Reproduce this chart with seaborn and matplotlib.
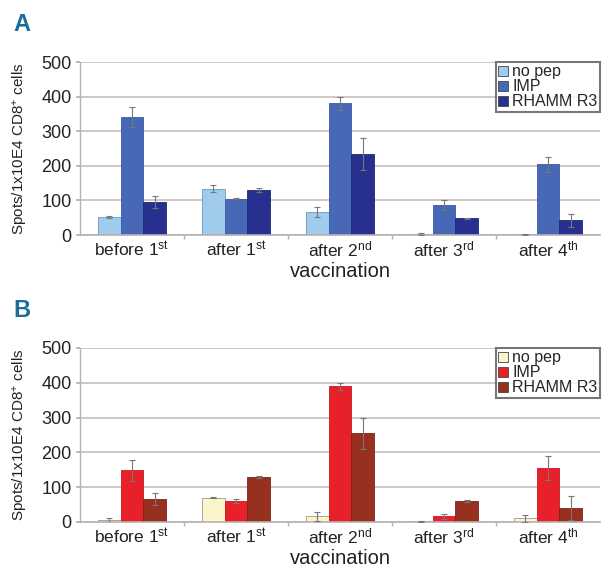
import matplotlib
matplotlib.use("Agg")
import matplotlib.pyplot as plt
import seaborn as sns
import pandas as pd
import numpy as np

categories = ["before 1$^{st}$", "after 1$^{st}$", "after 2$^{nd}$", "after 3$^{rd}$", "after 4$^{th}$"]
series = ["no pep", "IMP", "RHAMM R3"]

# Panel A
a_nopep = [52, 134, 66, 3, 2]
a_imp = [341, 105, 381, 86, 204]
a_rhamm = [96, 129, 234, 48, 42]
a_nopep_err = [3, 11, 15, 2, 2]
a_imp_err = [28, 2, 19, 14, 21]
a_rhamm_err = [18, 6, 46, 1, 20]

# Panel B
b_nopep = [5, 70, 16, 2, 11]
b_imp = [148, 60, 390, 16, 155]
b_rhamm = [67, 130, 255, 60, 41]
b_nopep_err = [7, 2, 12, 1, 10]
b_imp_err = [30, 6, 10, 8, 35]
b_rhamm_err = [17, 3, 45, 3, 35]

colors_a = ["#9fcbec", "#4668b6", "#28308f"]
colors_b = ["#fbf5cc", "#e8202a", "#983020"]

sns.set_theme(style="white")
plt.rcParams['font.family'] = ['Liberation Sans', 'DejaVu Sans']
plt.rcParams['mathtext.default'] = 'regular'
plt.rcParams['mathtext.fontset'] = 'custom'
plt.rcParams['mathtext.rm'] = 'Liberation Sans'

fig = plt.figure(figsize=(6.03, 5.75), dpi=100)

def build_df(vals):
    rows = []
    for s, v in zip(series, vals):
        for c, x in zip(categories, v):
            rows.append({"cat": c, "series": s, "val": x})
    return pd.DataFrame(rows)

def draw(ax, vals, errs, colors, letter, edgecols):
    df = build_df(vals)
    sns.barplot(data=df, x="cat", y="val", hue="series", palette=colors,
                width=0.66, errorbar=None, ax=ax, saturation=1,
                edgecolor=None, linewidth=0)
    for cont, err, ec in zip(ax.containers, errs, edgecols):
        xs = [p.get_x() + p.get_width() / 2 for p in cont.patches]
        hs = [p.get_height() for p in cont.patches]
        for p in cont.patches:
            p.set_edgecolor(ec)
            p.set_linewidth(0.6)
        ax.errorbar(xs, hs, yerr=err, fmt="none", ecolor="#777777",
                    elinewidth=0.8, capsize=2, capthick=0.8, zorder=5)
    ax.set_xlim(-0.5, 4.5)
    ax.set_ylim(0, 500)
    ax.set_yticks([0, 100, 200, 300, 400, 500])
    ax.yaxis.grid(True, color="#c8bcbc", linewidth=1.2)
    ax.set_axisbelow(True)
    for s in ["top", "right"]:
        ax.spines[s].set_visible(False)
    ax.spines["left"].set_color("#b8b0b0")
    ax.spines["bottom"].set_color("#b8b0b0")
    ax.spines["left"].set_linewidth(1.0)
    ax.spines["bottom"].set_linewidth(1.2)
    ax.tick_params(axis="x", which="major", length=0, labelsize=12.5, pad=3, labelcolor="#222222")
    ax.set_xticks(np.arange(0.5, 4.5, 1.0), minor=True)
    ax.tick_params(axis="x", which="minor", length=3, color="#b8b0b0", width=1, direction="out", bottom=True)
    ax.tick_params(axis="y", which="major", length=3, color="#b8b0b0", labelsize=13, pad=3, labelcolor="#222222", left=True)
    ax.set_ylabel("Spots/1x10E4 CD8$^{+}$ cells", fontsize=11, color="#222222", labelpad=8)
    ax.set_xlabel("vaccination", fontsize=14.5, color="#222222", labelpad=2)
    leg = ax.legend(loc="upper right", bbox_to_anchor=(1.0, 1.0), frameon=True, fancybox=False,
                    fontsize=11.5, handlelength=0.6, handleheight=0.6, handletextpad=0.3,
                    borderpad=0.15, labelspacing=0.0, borderaxespad=0.0)
    leg.get_frame().set_edgecolor("#555555")
    leg.get_frame().set_linewidth(1.5)
    for h in leg.legend_handles:
        h.set_edgecolor("#444444")
        h.set_linewidth(0.6)
    fig.text(ax.get_position().x0 - 0.11, ax.get_position().y1 + 0.045, letter,
             fontsize=17, fontweight="bold", color="#1b6e9c", ha="left", va="bottom")

ax_a = fig.add_axes([80/603, 1-235/575, 520/603, 173/575])
draw(ax_a, [a_nopep, a_imp, a_rhamm], [a_nopep_err, a_imp_err, a_rhamm_err], colors_a, "A",
     ["#6a98c0", "#3a5aa0", "#20287a"])
ax_b = fig.add_axes([80/603, 1-522/575, 520/603, 174/575])
draw(ax_b, [b_nopep, b_imp, b_rhamm], [b_nopep_err, b_imp_err, b_rhamm_err], colors_b, "B",
     ["#a09a80", "#c81820", "#7a2418"])

fig.savefig("out.png", dpi=100)
